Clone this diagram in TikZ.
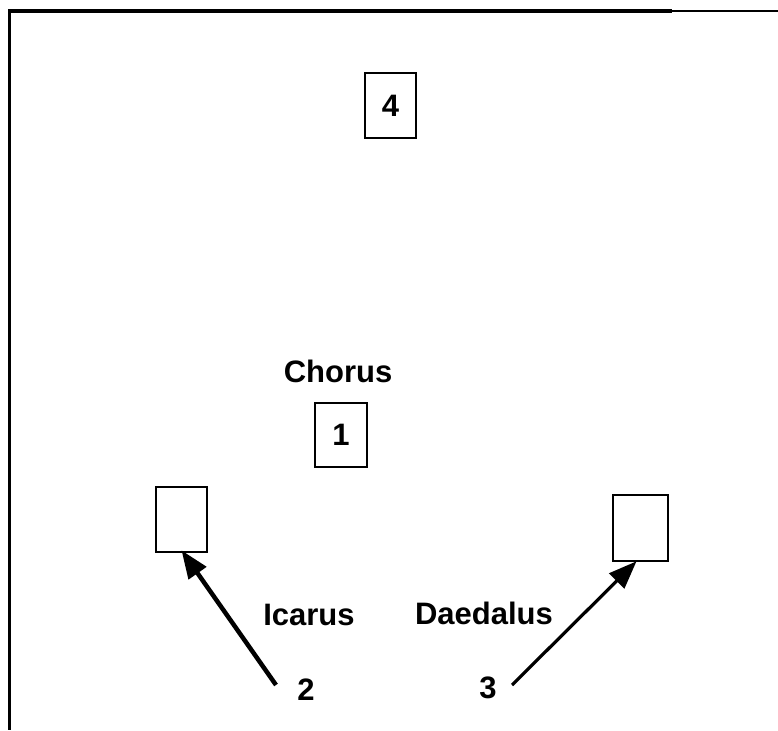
\documentclass[tikz,border=0pt]{standalone}
\usepackage{fontspec}
\setmainfont{Liberation Sans}
\usetikzlibrary{arrows.meta}
\begin{document}
\begin{tikzpicture}[x=1pt,y=-1pt,
  box/.style={draw,line width=2.6pt,inner sep=0pt},
  lbl/.style={font=\fontsize{31}{31}\selectfont\bfseries,inner sep=0pt},
  num/.style={font=\fontsize{31}{31}\selectfont\bfseries,inner sep=0pt},
  arr/.style={-{Triangle[length=28pt,width=21pt]}}]
\useasboundingbox (0,0) rectangle (778,730);
% frame
\draw[line width=3.5pt] (9,11) -- (672,11);
\draw[line width=1.5pt] (672,11) -- (778,11);
\draw[line width=3pt] (9,9.5) -- (9,730);
% boxes
\node[box,minimum width=51pt,minimum height=65pt] (b4) at (390.5,105.5) {};
\node[num] (n4) at (b4.center) {4};
\node[box,minimum width=52pt,minimum height=64pt] (b1) at (341,435) {};
\node[num] (n1) at (b1.center) {1};
\node[lbl] (chorus) at (338,371) {Chorus};
\node[box,minimum width=51pt,minimum height=65pt] (ic) at (181.5,519.5) {};
\node[box,minimum width=55pt,minimum height=66pt] (da) at (640.5,528) {};
\node[lbl] (icarus) at (309,615) {Icarus};
\node[lbl] (daed) at (484,613) {Daedalus};
\node[num] (n2) at (306,690) {2};
\node[num] (n3) at (488,688) {3};
% arrows
\coordinate (a2) at (276,685);
\coordinate (a3) at (512,685);
\draw[arr,line width=4.5pt] (a2) -- ([yshift=3pt]ic.south);
\draw[arr,line width=3.2pt] (a3) -- ([xshift=-4pt,yshift=1pt]da.south);
\end{tikzpicture}
\end{document}
